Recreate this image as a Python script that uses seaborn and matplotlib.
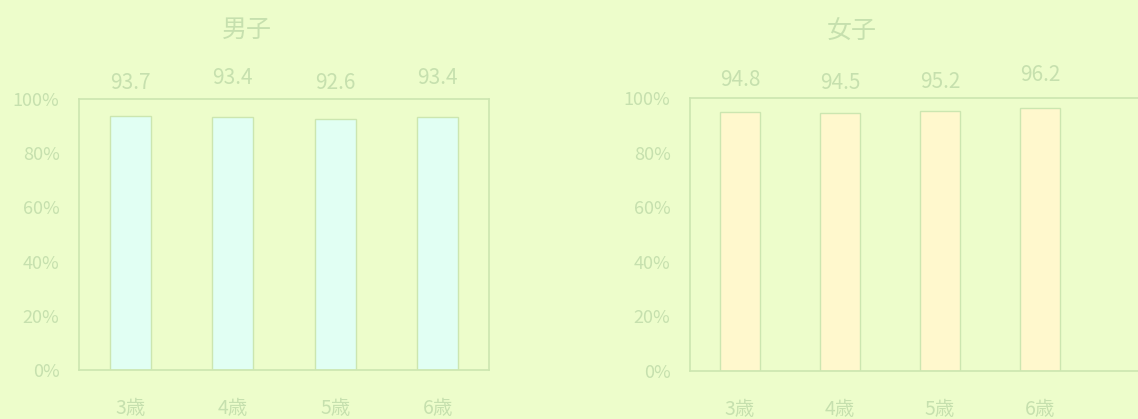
import matplotlib
matplotlib.use("Agg")
import matplotlib.pyplot as plt
import seaborn as sns

# Data
ages = ["3歳", "4歳", "5歳", "6歳"]
boys = [93.7, 93.4, 92.6, 93.4]
girls = [94.8, 94.5, 95.2, 96.2]
y_ticks = [0, 20, 40, 60, 80, 100]
y_tick_labels = ["0%", "20%", "40%", "60%", "80%", "100%"]

sns.set_theme(style="white")
plt.rcParams["font.family"] = ["Noto Sans CJK JP", "DejaVu Sans"]

BG = "#EDFDCB"
TEXT = "#C6E0AE"
FRAME = "#CCE6B0"
BOY_FILL = "#E1FFF3"
GIRL_FILL = "#FFF8CD"

W, H = 1138, 419
fig = plt.figure(figsize=(W / 100, H / 100), dpi=100, facecolor=BG)


def px_axes(left, top, right, bottom):
    return fig.add_axes([left / W, 1 - bottom / H, (right - left) / W, (bottom - top) / H])


def panel(ax, values, fill, xmax, lifts):
    ax.set_facecolor(BG)
    sns.barplot(x=ages, y=values, ax=ax, color=fill, width=0.4,
                edgecolor=FRAME, linewidth=1.0, saturation=1)
    ax.set_ylim(0, 100)
    ax.set_xlim(-0.5, xmax)
    ax.set_yticks(y_ticks)
    ax.set_yticklabels(y_tick_labels)
    ax.tick_params(axis="y", length=0, pad=14, labelsize=13, labelcolor=TEXT)
    ax.tick_params(axis="x", length=0, pad=20, labelsize=14, labelcolor=TEXT)
    ax.set_xlabel("")
    ax.set_ylabel("")
    for s in ax.spines.values():
        s.set_color(FRAME)
        s.set_linewidth(1.2)
    for i, (v, lift) in enumerate(zip(values, lifts)):
        ax.annotate(f"{v:.1f}", xy=(i, 100), xytext=(0, lift * 0.72),
                    textcoords="offset points", ha="center", va="center",
                    fontsize=15, color=TEXT, annotation_clip=False)


ax_boys = px_axes(79, 99, 489, 370)
panel(ax_boys, boys, BOY_FILL, 3.5, [16, 21, 16, 21])

ax_girls = px_axes(690, 98, 1150, 371)
panel(ax_girls, girls, GIRL_FILL, 4.1, [18, 15, 16, 23])

fig.text(247 / W, 1 - 30 / H, "男子", ha="center", va="center", fontsize=18, color=TEXT)
fig.text(852 / W, 1 - 32 / H, "女子", ha="center", va="center", fontsize=18, color=TEXT)

fig.savefig("out.png", dpi=100, facecolor=BG)
